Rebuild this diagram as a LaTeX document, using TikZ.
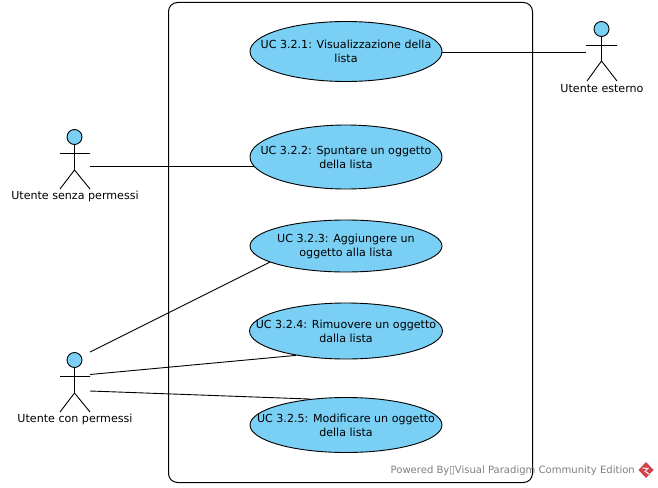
\documentclass[tikz,border=0pt]{standalone}
\usepackage{fontspec}
\setmainfont{DejaVu Sans}
\usetikzlibrary{shapes.geometric}
\definecolor{ucblue}{HTML}{7ACFF5}
\definecolor{wmgray}{HTML}{808080}
\definecolor{wmred}{HTML}{D6404A}
\tikzset{
  uc/.style={ellipse,draw=black,fill=ucblue,line width=0.9pt,inner xsep=-22pt,inner ysep=0pt,minimum width=192pt,align=center,font=\fontsize{11.1}{14}\selectfont},
  link/.style={draw=black,line width=0.9pt},
  actorlabel/.style={inner sep=0pt,font=\fontsize{11.1}{13}\selectfont},
  head/.style={circle,draw=black,fill=ucblue,line width=0.9pt,minimum size=15pt,inner sep=0pt},
  limb/.style={draw=black,line width=0.9pt},
  watermark/.style={inner sep=0pt,text=wmgray,font=\fontsize{10.05}{11}\selectfont}
}
\begin{document}
\begin{tikzpicture}[x=1pt,y=-1pt]
\useasboundingbox (0,0) rectangle (658,487);
\fill[white] (0,0) rectangle (658,487);
\draw[black,line width=1pt,rounded corners=9pt] (168.5,2.5) rectangle (532.5,482.5);
% use cases
\node[uc,minimum height=60pt] (uc1) at (346,51.5) {UC 3.2.1: Visualizzazione della\\lista};
\node[uc,minimum height=64pt] (uc2) at (346,157) {UC 3.2.2: Spuntare un oggetto\\della lista};
\node[uc,minimum height=52pt] (uc3) at (346,246) {UC 3.2.3: Aggiungere un\\oggetto alla lista};
\node[uc,minimum height=56pt] (uc4) at (346,331) {UC 3.2.4: Rimuovere un oggetto\\dalla lista};
\node[uc,minimum height=55pt] (uc5) at (346,425) {UC 3.2.5: Modificare un oggetto\\della lista};
% actors
\node[head] (h1) at (601.5,29) {};
\coordinate (a1l) at (586,45.5); \coordinate (a1r) at (617,45.5);
\coordinate (a1hip) at (601.5,61); \coordinate (a1fl) at (587,81); \coordinate (a1fr) at (617,81);
\draw[limb] (h1.south) -- (a1hip) (a1l) -- (a1r) (a1fl) -- (a1hip) -- (a1fr);
\node[actorlabel] (l1) at (602,88.5) {Utente esterno};
\node[head] (h2) at (74.5,137) {};
\coordinate (a2l) at (60,153.5); \coordinate (a2r) at (90,153.5);
\coordinate (a2hip) at (74.5,170); \coordinate (a2fl) at (60,189); \coordinate (a2fr) at (90,189);
\draw[limb] (h2.south) -- (a2hip) (a2l) -- (a2r) (a2fl) -- (a2hip) -- (a2fr);
\node[actorlabel] (l2) at (75,196.5) {Utente senza permessi};
\node[head] (h3) at (74.5,360) {};
\coordinate (a3l) at (60,376.5); \coordinate (a3r) at (90,376.5);
\coordinate (a3hip) at (74.5,393); \coordinate (a3fl) at (60,412); \coordinate (a3fr) at (90,412);
\draw[limb] (h3.south) -- (a3hip) (a3l) -- (a3r) (a3fl) -- (a3hip) -- (a3fr);
\node[actorlabel] (l3) at (75,419.5) {Utente con permessi};
% connector ends at the actors
\coordinate (p1) at (586,52.5);
\coordinate (p2) at (90,166.5);
\coordinate (p3) at (90,352);
\coordinate (p4) at (90,374.5);
\coordinate (p5) at (90,391);
\draw[link] (p1 -| uc1.east) -- (p1);
\draw[link] (p2) -- (p2 -| uc2.186);
\draw[link] (p3) -- (uc3.192);
\draw[link] (p4) -- (uc4.206);
\draw[link] (p5) -- (uc5.144);
% watermark
\node[watermark,anchor=east] (wm) at (635,470.5) {Powered By\kern-0.3pt{\fontsize{11}{11}\selectfont ▯}\kern-0.3pt Visual Paradigm Community Edition};
\fill[wmred] (646,462) -- (653.5,470) -- (646,478) -- (638.5,470) -- cycle;
\draw[white,line width=1pt] (642.5,468) -- (648,468.5) -- (644.5,472) (646,472) -- (649,474);
\end{tikzpicture}
\end{document}
